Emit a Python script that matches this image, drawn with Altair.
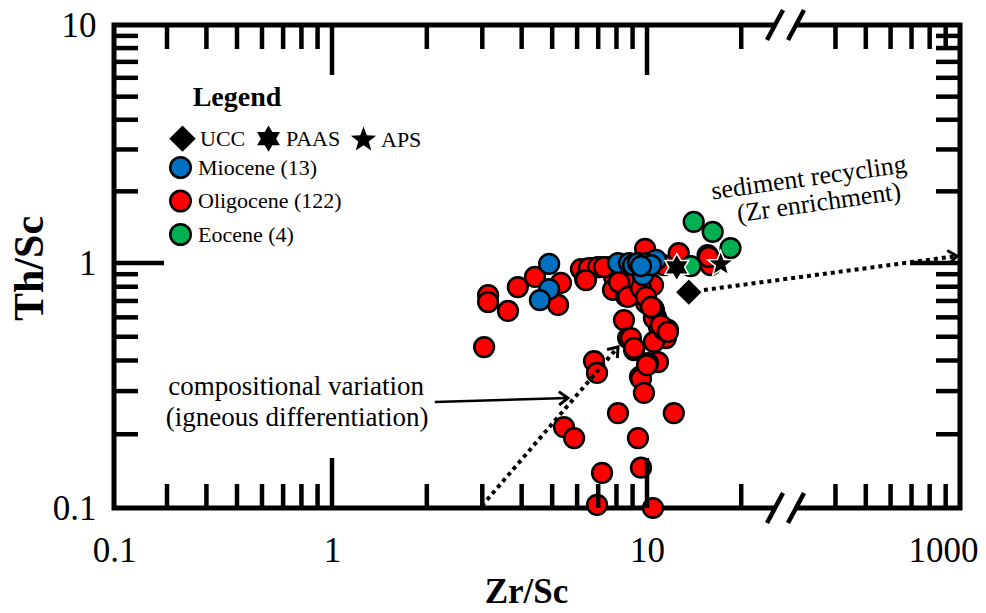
import altair as alt
import pandas as pd

SERIF = "Liberation Serif"
W, H = 846, 483

# ---------------- data ----------------
oli_x = [3.04, 3.13, 3.13, 3.62, 3.89, 4.41, 5.33, 5.22, 6.17, 6.36, 6.64, 7.04, 7.52, 7.86, 7.80,
         8.57, 8.45, 9.86, 9.86, 10.45, 9.93, 10.52, 10.68, 10.92, 11.66, 11.49, 10.52, 8.45, 8.71,
         9.10, 10.84, 10.07, 9.50, 6.79, 6.94, 12.63, 15.62, 15.96, 5.45, 5.87, 7.20, 6.94, 8.09,
         9.36, 9.57, 10.45, 12.18, 9.57, 9.78, 10.0, 11.32, 10.52, 10.45, 6.54, 6.99, 7.30, 6.40,
         8.15, 8.71, 9.57, 9.93, 10.30, 11.07, 11.66, 8.89, 9.10, 15.73, 11.32]
oli_y = [0.454, 0.740, 0.693, 0.637, 0.798, 0.877, 0.829, 0.674, 0.945, 0.860, 0.954, 0.963, 0.963,
         0.877, 0.776, 0.733, 0.852, 1.146, 0.740, 0.813, 0.687, 0.643, 0.602, 0.548, 0.533, 0.494,
         0.476, 0.585, 0.494, 0.441, 0.394, 0.390, 0.343, 0.398, 0.356, 1.10, 1.08, 0.981, 0.214,
         0.193, 0.139, 0.103, 0.244, 0.193, 0.146, 0.100, 0.244, 0.337, 0.295, 0.383, 0.533, 0.596,
         0.655, 0.954, 0.963, 0.963, 0.852, 0.836, 0.727, 0.790, 0.727, 0.662, 0.558, 0.523, 0.494,
         0.450, 1.06, 0.981]
mio_x = [4.89, 4.89, 4.57, 8.09, 8.77, 9.03, 9.36, 9.93, 10.68, 9.71, 10.30, 9.57]
mio_y = [0.991, 0.783, 0.706, 1.0, 1.0, 0.981, 1.0, 1.0, 1.03, 0.893, 0.981, 0.972]
eoc_x = [14.10, 16.21, 18.48, 13.80]
eoc_y = [1.49, 1.35, 1.156, 0.972]

ages = ["Miocene (13)", "Oligocene (122)", "Eocene (4)"]
age_colors = ["#0070C0", "#FF0000", "#00B050"]

ref_names = ["UCC", "PAAS", "APS"]
ref_x = [13.6, 12.45, 17.2]
ref_y = [0.76, 0.96, 0.99]

x_label_vals = [0.1, 1, 10, 1000]
y_label_vals = [0.1, 1, 10]
x_minor = [0.3, 0.4, 0.5, 0.6, 0.7, 0.8, 0.9, 2, 3, 4, 5, 6, 7, 8, 9, 20, 400, 500, 600, 700, 800, 900]
x_major = [1, 10]
y_minor = [0.2, 0.3, 0.4, 0.5, 0.6, 0.7, 0.8, 0.9, 2, 3, 4, 5, 6, 7, 8, 9]
y_major = [1]

# annotation arrows (data coordinates)
dot_x = [15.2, 2.99]
dot_y = [0.776, 0.102]
dot_x2 = [978, 8.09]
dot_y2 = [1.07, 0.454]
solid_x, solid_y, solid_x2, solid_y2 = [2.12], [0.271], [5.61], [0.281]
head_x = [978, 8.09, 5.61]
head_y = [1.07, 0.454, 0.281]
head_angle = [352.4, 310.3, 358.3]

# annotation texts
comp_text = ["compositional variation", "(igneous differentiation)"]
comp_x = [0.77, 0.775]
comp_y = [0.312, 0.233]
sed_text = ["sediment recycling", "(Zr enrichment)"]
sed_x = [329, 354]
sed_y = [2.28, 1.79]

# ---------------- scales ----------------
# broken log axis: piecewise log scale
x_domain = [0.1, 0.3, 1, 10, 27.8, 280, 1000]
x_range = [0, 53, 218, 533, 672, 673, W]
xscale = alt.Scale(type="log", domain=x_domain, range=x_range, nice=False)
yscale = alt.Scale(type="log", domain=[0.1, 1, 10], range=[H, 238, 0], nice=False)

HEX = ("M0,-1L0.289,-0.5L0.866,-0.5L0.577,0L0.866,0.5L0.289,0.5L0,1L-0.289,0.5"
       "L-0.866,0.5L-0.577,0L-0.866,-0.5L-0.289,-0.5Z")
STAR = ("M0,-1L0.245,-0.337L0.951,-0.309L0.396,0.129L0.588,0.809L0,0.417"
        "L-0.588,0.809L-0.396,0.129L-0.951,-0.309L-0.245,-0.337Z")
CHEVRON = "M-1,-0.75L0,0L-1,0.75"

xaxis = alt.Axis(
    values=x_label_vals, format="~g", ticks=False, tickSize=0, domain=False, grid=False,
    labelFont=SERIF, labelFontSize=35, labelColor="black", labelPadding=42,
    labelBaseline="middle", labelOverlap=False, labelFlush=False, labelBound=False,
    labelOffset={"condition": {"test": "datum.value == 1000", "value": -17}, "value": 0},
    title="Zr/Sc", titleFont=SERIF, titleFontSize=35, titleFontWeight="bold",
    titleColor="black", titleX=412, titleY=83, titleBaseline="middle",
)
yaxis = alt.Axis(
    values=y_label_vals, format="~g", ticks=False, tickSize=0, domain=False, grid=False,
    labelFont=SERIF, labelFontSize=35, labelColor="black", labelPadding=18,
    labelOverlap=False, labelFlush=False, labelBound=False,
    title="Th/Sc", titleFont=SERIF, titleFontSize=42, titleFontWeight="bold",
    titleColor="black", titleX=-85, titleY=243, titleBaseline="middle",
)


def X(field):
    return alt.X(field, scale=xscale, axis=xaxis)


def Y(field):
    return alt.Y(field, scale=yscale, axis=yaxis)


# ---------------- tick layers (inward ticks on all four sides) ----------------
def ticks(vals, side, length):
    df = pd.DataFrame({"v": vals})
    base = alt.Chart(df).mark_rule(color="black", strokeWidth=4.5)
    if side == "bottom":
        return base.encode(x=X("v:Q"), y=alt.value(H), y2=alt.value(H - length))
    if side == "top":
        return base.encode(x=X("v:Q"), y=alt.value(0), y2=alt.value(length))
    if side == "left":
        return base.encode(y=Y("v:Q"), x=alt.value(0), x2=alt.value(length))
    return base.encode(y=Y("v:Q"), x=alt.value(W), x2=alt.value(W - length))


tick_layers = []
for side in ["bottom", "top"]:
    tick_layers.append(ticks(x_minor, side, 24))
    tick_layers.append(ticks(x_major, side, 50))
for side in ["left", "right"]:
    tick_layers.append(ticks(y_minor, side, 24))
    tick_layers.append(ticks(y_major, side, 50))

# ---------------- axis-break decoration ----------------
one = alt.Data(values=[{}])
break_layers = []
for yc in [0, H]:
    break_layers.append(
        alt.Chart(one).mark_rect(color="white").encode(
            x=alt.value(661), x2=alt.value(682), y=alt.value(yc - 5), y2=alt.value(yc + 5)))
    for xc in [661, 682]:
        break_layers.append(
            alt.Chart(one).mark_rule(color="black", strokeWidth=4.5).encode(
                x=alt.value(xc - 8), x2=alt.value(xc + 8),
                y=alt.value(yc + 15), y2=alt.value(yc - 15)))

# ---------------- arrows ----------------
dotted = alt.Chart(pd.DataFrame({"x": dot_x, "y": dot_y, "x2": dot_x2, "y2": dot_y2})).mark_rule(
    color="black", strokeWidth=4, strokeDash=[4, 4]).encode(
    x=X("x:Q"), y=Y("y:Q"), x2="x2:Q", y2="y2:Q")
solid = alt.Chart(pd.DataFrame({"x": solid_x, "y": solid_y, "x2": solid_x2, "y2": solid_y2})).mark_rule(
    color="black", strokeWidth=2.5).encode(
    x=X("x:Q"), y=Y("y:Q"), x2="x2:Q", y2="y2:Q")
heads = alt.Chart(pd.DataFrame({"x": head_x, "y": head_y, "a": head_angle})).mark_point(
    shape=CHEVRON, filled=False, color="black", strokeWidth=3, size=320, opacity=1).encode(
    x=X("x:Q"), y=Y("y:Q"), angle=alt.Angle("a:Q", scale=None))

# ---------------- sample points ----------------
pts = pd.DataFrame({
    "zr": oli_x + mio_x + eoc_x,
    "th": oli_y + mio_y + eoc_y,
    "age": [ages[1]] * len(oli_x) + [ages[0]] * len(mio_x) + [ages[2]] * len(eoc_x),
})
circles = alt.Chart(pts).mark_circle(size=390, opacity=1, stroke="black", strokeWidth=2.5).encode(
    x=X("zr:Q"),
    y=Y("th:Q"),
    color=alt.Color("age:N", scale=alt.Scale(domain=ages, range=age_colors),
                    legend=alt.Legend(title=None, orient="none", legendX=55, legendY=131,
                                      direction="vertical", padding=0,
                                      labelFont=SERIF, labelFontSize=22, labelColor="black",
                                      labelOffset=6, labelLimit=400,
                                      symbolType="circle", symbolSize=420, symbolOpacity=1,
                                      symbolStrokeColor="black", symbolStrokeWidth=2.5,
                                      rowPadding=2.5)),
)

refs = alt.Chart(pd.DataFrame({"name": ref_names, "zr": ref_x, "th": ref_y})).mark_point(
    filled=True, color="black", stroke="white", strokeWidth=1.5, size=750, opacity=1).encode(
    x=X("zr:Q"), y=Y("th:Q"),
    shape=alt.Shape("name:N", scale=alt.Scale(domain=ref_names, range=["diamond", HEX, STAR]),
                    legend=alt.Legend(title=None, orient="none", legendX=55, legendY=100,
                                      direction="horizontal", columns=3, columnPadding=9,
                                      padding=0, labelFont=SERIF, labelFontSize=22,
                                      labelColor="black", labelOffset=4, labelLimit=400,
                                      symbolSize=700, symbolFillColor="black",
                                      symbolStrokeColor="black", symbolStrokeWidth=0,
                                      symbolOpacity=1)),
)

# ---------------- texts ----------------
legend_title = alt.Chart(pd.DataFrame({"x": [0.5], "y": [4.94], "t": ["Legend"]})).mark_text(
    font=SERIF, fontSize=28, fontWeight="bold", color="black").encode(
    x=X("x:Q"), y=Y("y:Q"), text="t:N")
comp = alt.Chart(pd.DataFrame({"x": comp_x, "y": comp_y, "t": comp_text})).mark_text(
    font=SERIF, fontSize=27, color="black").encode(x=X("x:Q"), y=Y("y:Q"), text="t:N")
sed = alt.Chart(pd.DataFrame({"x": sed_x, "y": sed_y, "t": sed_text})).mark_text(
    font=SERIF, fontSize=26, color="black", angle=352).encode(x=X("x:Q"), y=Y("y:Q"), text="t:N")

chart = alt.layer(
    circles, *tick_layers, *break_layers, dotted, solid, heads, refs, legend_title, comp, sed
).properties(
    width=W, height=H,
    padding={"left": 114, "top": 25, "right": 26, "bottom": 105},
    autosize=alt.AutoSizeParams(type="none"),
    background="white",
).configure_view(stroke="black", strokeWidth=5)

chart.save("out.html", embed_options={"renderer": "svg", "actions": False})
